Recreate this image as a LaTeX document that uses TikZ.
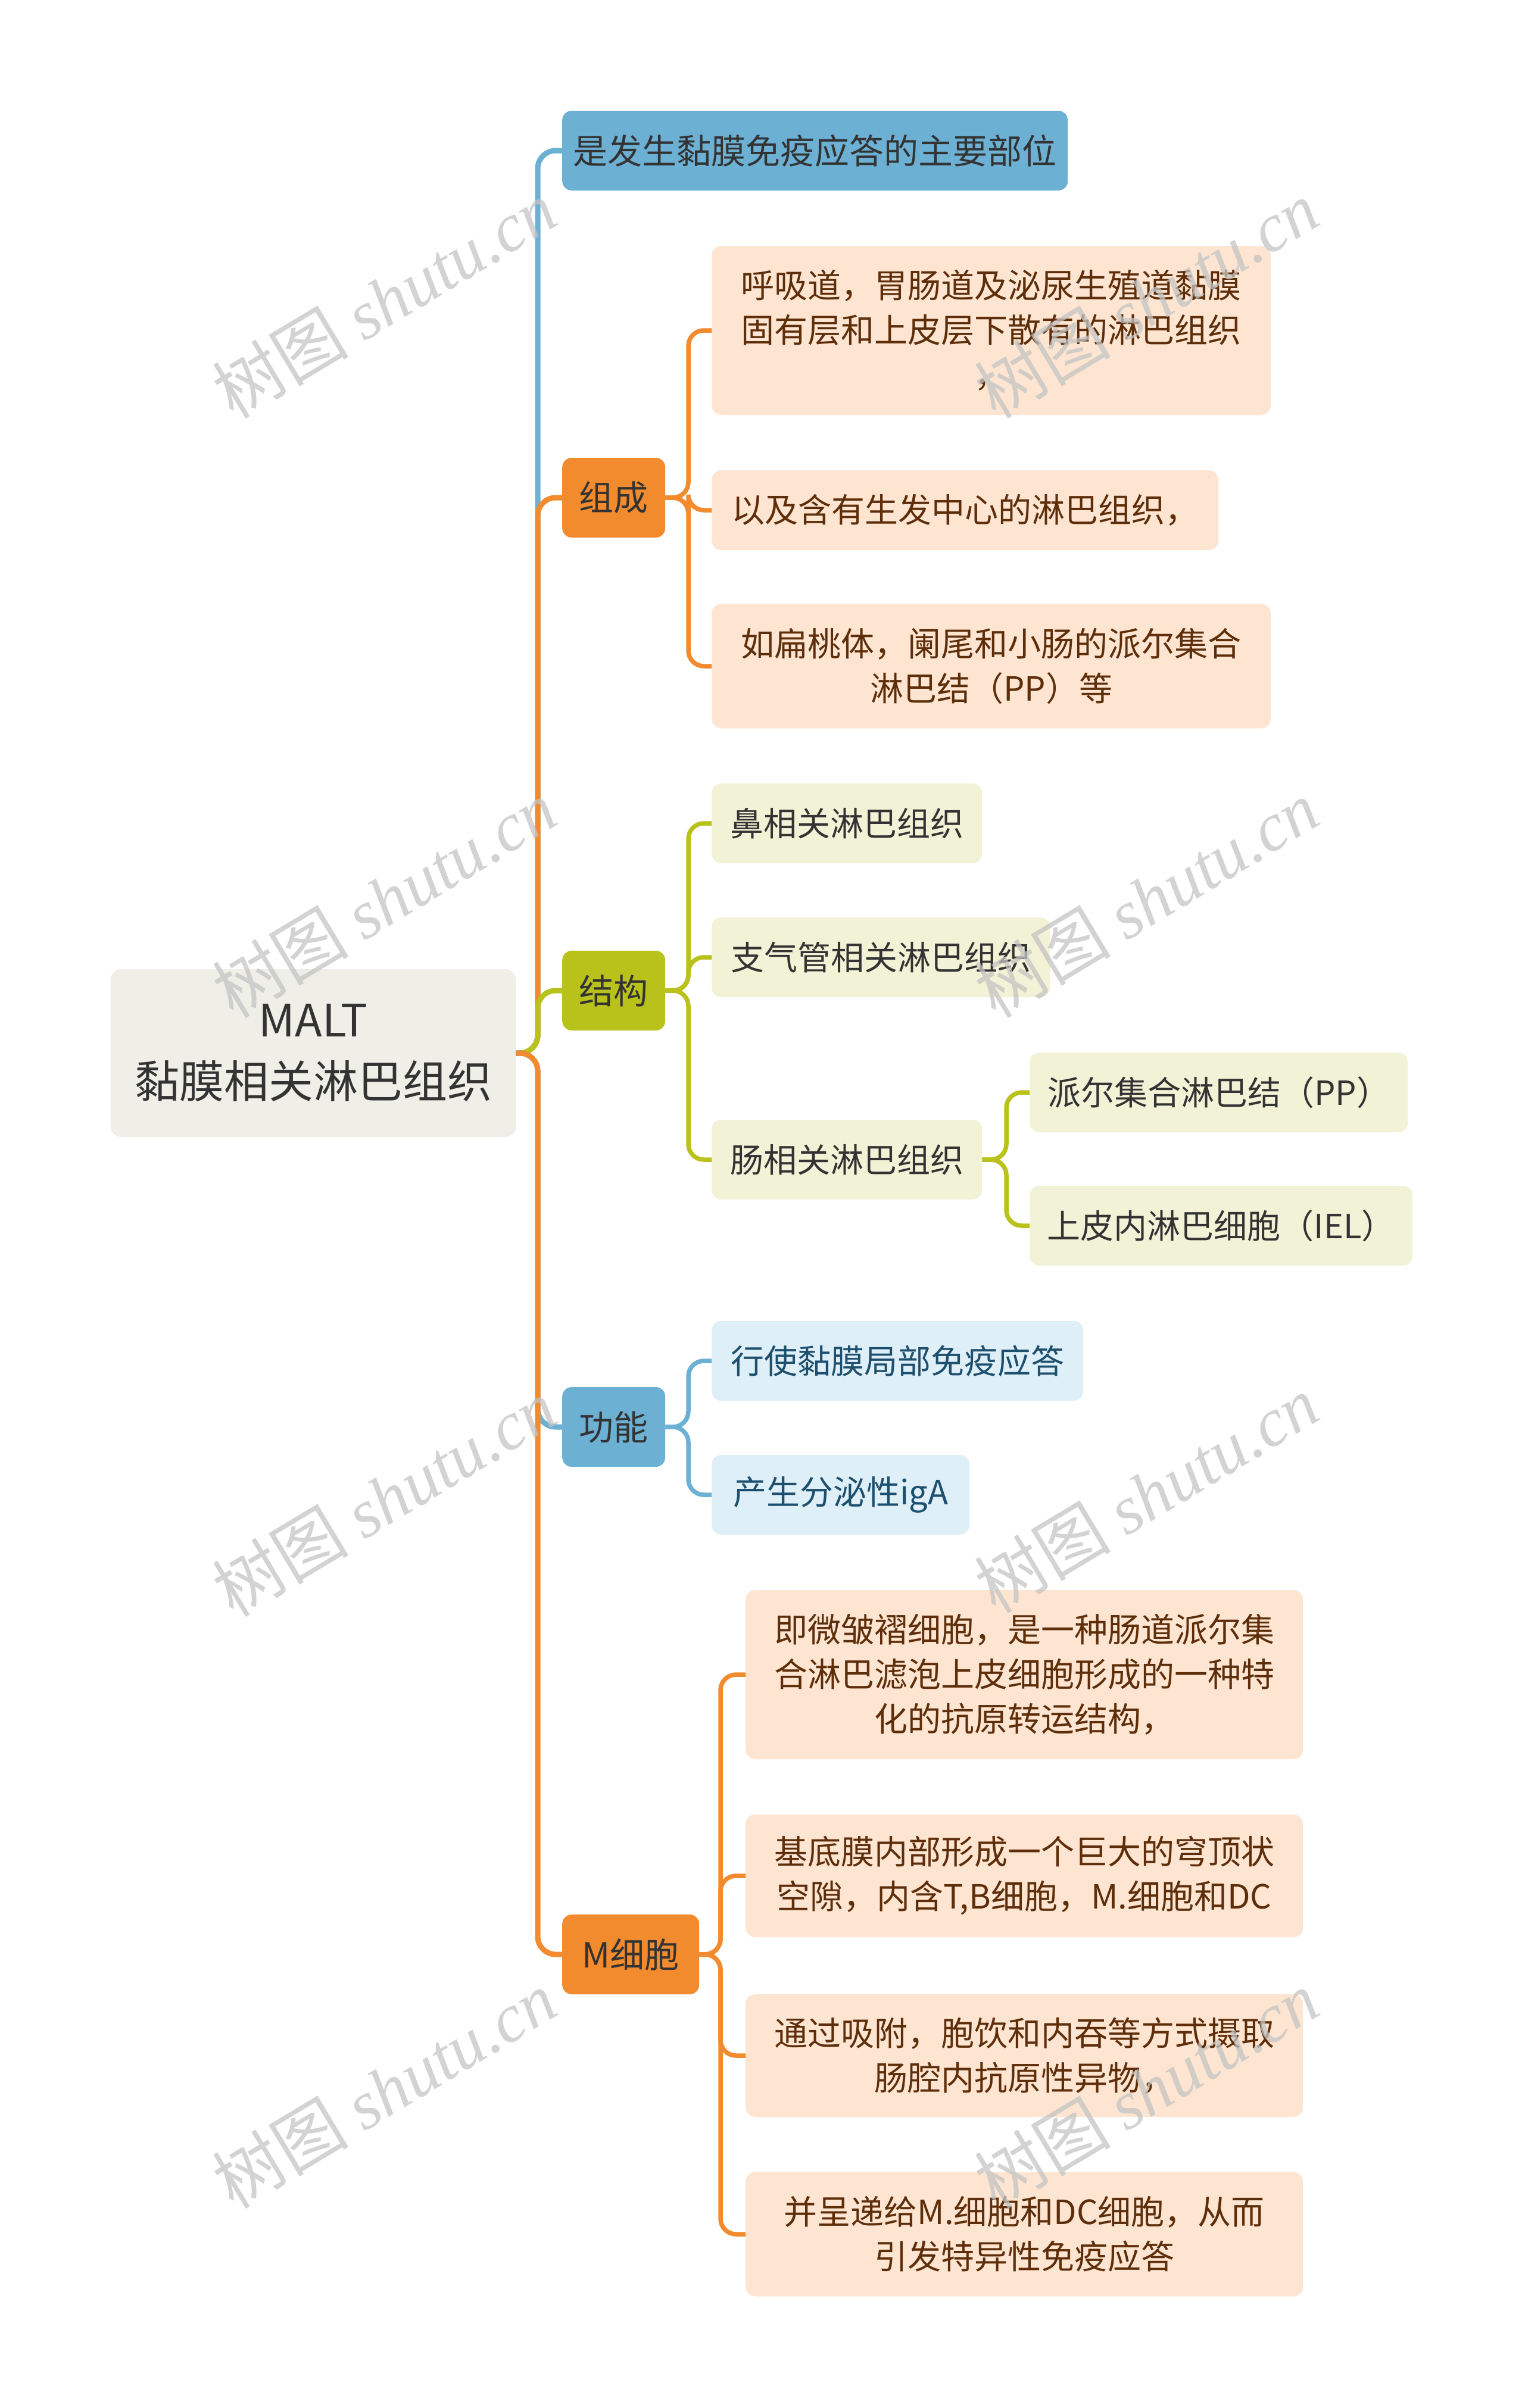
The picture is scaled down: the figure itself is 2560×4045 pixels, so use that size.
\documentclass[tikz,border=0pt]{standalone}
\usepackage{fontspec}
\setmainfont{Noto Sans CJK SC}
\newfontfamily\wmlatin{Liberation Serif}
\usetikzlibrary{positioning}

\definecolor{rootfill}{HTML}{EFEFE8}
\definecolor{cblue}{HTML}{6CB0D4}
\definecolor{corange}{HTML}{F28A2E}
\definecolor{colive}{HTML}{B9C21A}
\definecolor{peach}{HTML}{FDE5D2}
\definecolor{brown}{HTML}{5E2E0A}
\definecolor{paleolive}{HTML}{F1F2D6}
\definecolor{paleblue}{HTML}{DFEFF7}
\definecolor{navy}{HTML}{1D4F6E}
\definecolor{txtdark}{HTML}{333333}
\definecolor{wmgray}{HTML}{C4C4C4}

\begin{document}
\begin{tikzpicture}[x=1pt, y=-1pt,
        rootbox/.style={rectangle, fill=rootfill, rounded corners=18pt, inner sep=0pt,
                        minimum width=681pt, minimum height=282pt, align=center, text=txtdark,
                        font=\fontsize{75pt}{103pt}\selectfont},
        topic/.style={rectangle, rounded corners=16pt, inner sep=0pt, anchor=west,
                      minimum height=134pt, text=txtdark, font=\fontsize{58pt}{75pt}\selectfont},
        leaf/.style={rectangle, rounded corners=16pt, inner sep=0pt, anchor=west, align=center,
                     minimum height=134pt, font=\fontsize{56pt}{75pt}\selectfont},
        peachleaf/.style={leaf, fill=peach, text=brown},
        oliveleaf/.style={leaf, fill=paleolive, text=txtdark},
        blueleaf/.style={leaf, fill=paleblue, text=navy},
        branch/.style={line width=9pt, rounded corners=30pt},
        twig/.style={line width=7.5pt, rounded corners=26pt},
        wm/.style={rotate=31, text=wmgray, text opacity=0.75, font=\fontsize{115pt}{115pt}\selectfont}
    ]
    \useasboundingbox (0,0) rectangle (2560,4045);

    % root
    \node[rootbox] (malt) at (526,1769) {MALT\\黏膜相关淋巴组织};

    % first level
    \node[topic, fill=cblue, minimum width=849pt] (site) at (944,253) {是发生黏膜免疫应答的主要部位};
    \node[topic, fill=corange, minimum width=173pt] (zucheng) at (944,836) {组成};
    \node[topic, fill=colive, minimum width=173pt] (jiegou) at (944,1664) {结构};
    \node[topic, fill=cblue, minimum width=173pt] (gongneng) at (944,2397) {功能};
    \node[topic, fill=corange, minimum width=230pt] (mcell) at (944,3283) {M细胞};

    % 组成
    \node[peachleaf, minimum width=939pt, minimum height=284pt] (zc1) at (1195,555)
        {呼吸道，胃肠道及泌尿生殖道黏膜\\固有层和上皮层下散有的淋巴组织\\，};
    \node[peachleaf, minimum width=851pt] (zc2) at (1195,857) {以及含有生发中心的淋巴组织，};
    \node[peachleaf, minimum width=939pt, minimum height=209pt] (zc3) at (1195,1119)
        {如扁桃体，阑尾和小肠的派尔集合\\淋巴结（PP）等};

    % 结构
    \node[oliveleaf, minimum width=454pt] (jg1) at (1195,1383) {鼻相关淋巴组织};
    \node[oliveleaf, minimum width=568pt] (jg2) at (1195,1608) {支气管相关淋巴组织};
    \node[oliveleaf, minimum width=454pt] (jg3) at (1195,1948) {肠相关淋巴组织};
    \node[oliveleaf, minimum width=635pt] (pp) at (1729,1835) {派尔集合淋巴结（PP）};
    \node[oliveleaf, minimum width=643pt] (iel) at (1729,2059) {上皮内淋巴细胞（IEL）};

    % 功能
    \node[blueleaf, minimum width=624pt] (gn1) at (1195,2286) {行使黏膜局部免疫应答};
    \node[blueleaf, minimum width=433pt] (gn2) at (1195,2511) {产生分泌性igA};

    % M细胞
    \node[peachleaf, minimum width=936pt, minimum height=284pt] (mc1) at (1252,2813)
        {即微皱褶细胞，是一种肠道派尔集\\合淋巴滤泡上皮细胞形成的一种特\\化的抗原转运结构，};
    \node[peachleaf, minimum width=936pt, minimum height=206pt] (mc2) at (1252,3151)
        {基底膜内部形成一个巨大的穹顶状\\空隙，内含T,B细胞，M.细胞和DC};
    \node[peachleaf, minimum width=936pt, minimum height=206pt] (mc3) at (1252,3453)
        {通过吸附，胞饮和内吞等方式摄取\\肠腔内抗原性异物，};
    \node[peachleaf, minimum width=936pt, minimum height=209pt] (mc4) at (1252,3753)
        {并呈递给M.细胞和DC细胞，从而\\引发特异性免疫应答};

    % junctions
    \coordinate (rootj) at (903,1769);
    \coordinate (zcj) at (1156,836);
    \coordinate (jgj) at (1156,1664);
    \coordinate (gutj) at (1690,1948);
    \coordinate (gnj) at (1156,2397);
    \coordinate (mcj) at (1210,3283);

    % main branches
    \draw[branch, cblue] (malt.east) -- (rootj) |- (site.west);
    \draw[branch, corange] (malt.east) -- (rootj) |- (zucheng.west);
    \draw[branch, colive] (malt.east) -- (rootj) |- (jiegou.west);
    \draw[branch, cblue] (malt.east) -- (rootj) |- (gongneng.west);
    \draw[branch, corange] (malt.east) -- (rootj) |- (mcell.west);

    % sub branches
    \foreach \leafname in {zc1,zc2,zc3}
        \draw[twig, corange] (zucheng.east) -- (zcj) |- (\leafname.west);
    \foreach \leafname in {jg1,jg2,jg3}
        \draw[twig, colive] (jiegou.east) -- (jgj) |- (\leafname.west);
    \foreach \leafname in {pp,iel}
        \draw[twig, colive] (jg3.east) -- (gutj) |- (\leafname.west);
    \foreach \leafname in {gn1,gn2}
        \draw[twig, cblue] (gongneng.east) -- (gnj) |- (\leafname.west);
    \foreach \leafname in {mc1,mc2,mc3,mc4}
        \draw[twig, corange] (mcell.east) -- (mcj) |- (\leafname.west);

    % watermarks
    \foreach \wx/\wy [count=\wi] in {645/503, 1925/503, 645/1510, 1925/1510,
                                     645/2516, 1925/2510, 645/3510, 1925/3510}
        \node[wm] (wm\wi) at (\wx,\wy) {树图 {\wmlatin\itshape shutu.cn}};
\end{tikzpicture}
\end{document}
